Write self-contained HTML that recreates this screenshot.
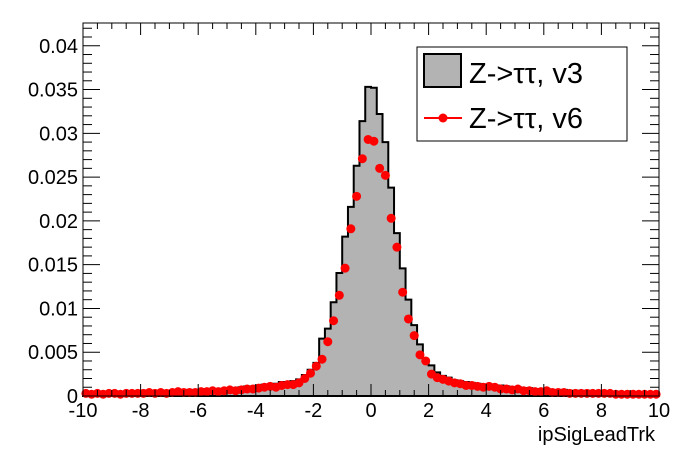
<!DOCTYPE html>
<html><head><meta charset="utf-8"><style>
html,body{margin:0;padding:0;background:#fff;}
svg{display:block;font-family:"Liberation Sans",Arial,sans-serif;}
</style></head><body>
<svg id="chart" width="696" height="472" viewBox="0 0 696 472">
<rect x="0" y="0" width="696" height="472" fill="#fff"/>
<g id="hist"></g>
<g id="pts"></g>
<g id="axes"></g>
<g>
<rect x="417" y="47" width="210" height="94" fill="#fff" stroke="#000" stroke-width="1"/>
<rect x="424" y="54" width="37" height="33" fill="#b3b3b3" stroke="#000" stroke-width="2"/>
<text x="469" y="83" font-size="29">Z-&gt;ττ, v3</text>
<line x1="424" y1="118" x2="462" y2="118" stroke="red" stroke-width="2"/>
<circle cx="443" cy="118" r="4.5" fill="red"/>
<text x="469" y="128" font-size="29">Z-&gt;ττ, v6</text>
</g>
<text x="655" y="441" font-size="20" text-anchor="end">ipSigLeadTrk</text>
</svg>
<script>
const xMin = -10, xMax = 10, yMin = 0, yMax = 0.0426;
const binCount = 100;
const histV3 = [
0.0004,0.0004,0.0005,0.0004,0.0005,0.0004,0.0005,0.0005,0.0005,0.0005,
0.0005,0.0006,0.0005,0.0006,0.0006,0.0006,0.0007,0.0006,0.0007,0.0007,
0.0007,0.0008,0.0007,0.0008,0.0008,0.0009,0.0009,0.0010,0.0011,0.0011,
0.0012,0.0013,0.0013,0.0014,0.0016,0.0016,0.0017,0.0019,0.0024,0.0030,
0.00378,0.00655,0.0077,0.0107,0.01405,0.0182,0.0216,0.0263,0.0314,0.0353,
0.0352,0.0322,0.0290,0.0238,0.0186,0.01458,0.0110,0.0081,0.0059,0.0041,
0.0035,0.0027,0.0023,0.0021,0.0018,0.0017,0.0016,0.0015,0.0014,0.0013,
0.0013,0.0012,0.0012,0.0011,0.0010,0.0010,0.0009,0.0009,0.0008,0.0008,
0.0008,0.0007,0.0007,0.0007,0.0006,0.0006,0.0006,0.0006,0.0005,0.0005,
0.0005,0.0005,0.0005,0.0004,0.0004,0.0004,0.0004,0.0004,0.0004,0.0004];
const pointsV6 = [
0.0003,0.0002,0.0003,0.0002,0.0003,0.0003,0.0002,0.0003,0.0003,0.0003,
0.0003,0.0004,0.0003,0.0004,0.0003,0.0004,0.0005,0.0004,0.0004,0.0004,
0.0005,0.0005,0.0006,0.0005,0.0006,0.0007,0.0006,0.0007,0.0008,0.0008,
0.0009,0.0010,0.0011,0.0010,0.0012,0.0013,0.0013,0.0015,0.0020,0.0026,
0.0034,0.0042,0.0062,0.0086,0.0115,0.0146,0.0191,0.0228,0.0271,0.0293,
0.0291,0.0260,0.0252,0.0203,0.0170,0.01185,0.0088,0.0069,0.0047,0.0040,
0.0025,0.0021,0.0019,0.0017,0.0015,0.0014,0.0012,0.0012,0.0011,0.0010,
0.0011,0.0010,0.0008,0.0008,0.0007,0.0008,0.0006,0.0006,0.0005,0.0005,
0.0006,0.0004,0.0004,0.0004,0.0003,0.0003,0.0003,0.0003,0.0003,0.0003,
0.0003,0.0003,0.0002,0.0002,0.0002,0.0002,0.0002,0.0002,0.0002,0.0002];
const xTickLabels = ["-10","-8","-6","-4","-2","0","2","4","6","8","10"];
const yTickLabels = ["0","0.005","0.01","0.015","0.02","0.025","0.03","0.035","0.04"];

const L = 83, R = 659, T = 23, B = 396;
const NS = "http://www.w3.org/2000/svg";
function sx(v){ return L + (v - xMin) / (xMax - xMin) * (R - L); }
function sy(v){ return B - (v - yMin) / (yMax - yMin) * (B - T); }
function mk(tag, attrs, parent){ const e = document.createElementNS(NS, tag); for (const k in attrs) e.setAttribute(k, attrs[k]); parent.appendChild(e); return e; }

const bw = (xMax - xMin) / binCount;
let d = "M" + sx(xMin) + "," + sy(0);
for (let i = 0; i < histV3.length; i++) {
  const x0 = sx(xMin + i * bw), x1 = sx(xMin + (i + 1) * bw), y = sy(histV3[i]);
  d += " L" + x0 + "," + y + " L" + x1 + "," + y;
}
d += " L" + sx(xMax) + "," + sy(0) + " Z";
const hp = mk("path", {d: d, fill: "#b3b3b3", stroke: "#000", "stroke-width": 2}, document.getElementById("hist"));



const pg = document.getElementById("pts");
for (let i = 0; i < pointsV6.length; i++) {
  const cx = sx(xMin + (i + 0.5) * bw), v = pointsV6[i];
  const err = Math.sqrt(v) * 0.0022;
  const ln = mk("line", {x1: cx, x2: cx, y1: sy(v + err), y2: sy(Math.max(0, v - err)), stroke: "red", "stroke-width": 2}, pg);
  
  
  const c = mk("circle", {cx: cx, cy: sy(v), r: 4.5, fill: "red"}, pg);
  
  
}

const ag = document.getElementById("axes");
const fr = mk("rect", {x: L, y: T, width: R - L, height: B - T, fill: "none", stroke: "#000", "stroke-width": 1}, ag);


for (let v = xMin; v <= xMax + 1e-9; v += 0.5) {
  const major = Math.abs(v / 2 - Math.round(v / 2)) < 1e-6;
  const len = major ? 12 : 6, x = sx(v);
  mk("line", {x1: x, x2: x, y1: B, y2: B - len, stroke: "#000", "stroke-width": 1}, ag);
  mk("line", {x1: x, x2: x, y1: T, y2: T + len, stroke: "#000", "stroke-width": 1}, ag);
}
xTickLabels.forEach(function(lab){
  const t = mk("text", {x: sx(parseFloat(lab)), y: 417, "font-size": 20, "text-anchor": "middle"}, ag);
  t.textContent = lab;
  
  
});
for (let k = 0; k * 0.001 <= yMax; k++) {
  const v = k * 0.001, major = k % 5 === 0, len = major ? 17 : 9, y = sy(v);
  mk("line", {x1: L, x2: L + len, y1: y, y2: y, stroke: "#000", "stroke-width": 1}, ag);
  mk("line", {x1: R, x2: R - len, y1: y, y2: y, stroke: "#000", "stroke-width": 1}, ag);
}
yTickLabels.forEach(function(lab){
  const t = mk("text", {x: 78, y: sy(parseFloat(lab)) + 7, "font-size": 20, "text-anchor": "end"}, ag);
  t.textContent = lab;
  
  
});
</script>
</body></html>
